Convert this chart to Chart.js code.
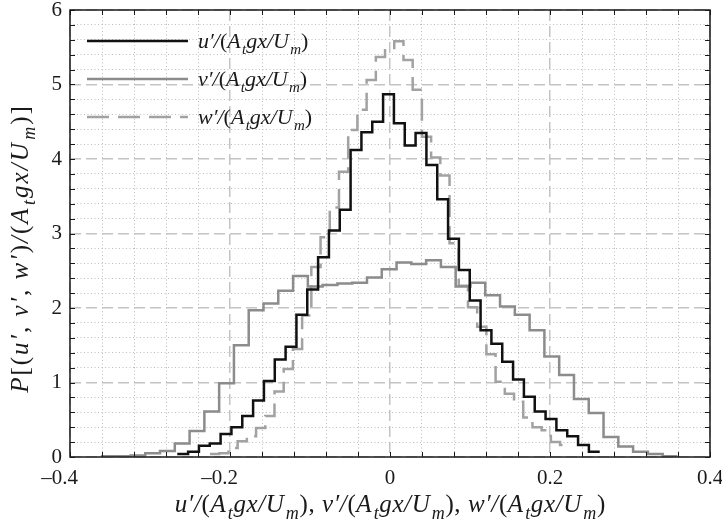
<!DOCTYPE html>
<html lang="en">
<head>
<meta charset="UTF-8">
<title>Velocity fluctuation PDFs</title>
<style>
  html, body { margin: 0; padding: 0; background: #fff; }
</style>
</head>
<body>
<canvas id="pdfChart" width="722" height="526"></canvas>

<script src="https://cdn.jsdelivr.net/npm/chart.js@4"></script>
<script>
// Histogram bins for each component: first bin edge, bin width, density per bin
const uStart = -0.2659;
const uWidth = 0.01354;
const uDensity = [0.04, 0.07, 0.15, 0.18, 0.31, 0.40, 0.55, 0.76, 1.02, 1.31,
                  1.48, 1.91, 2.25, 2.68, 3.04, 3.32, 4.12, 4.36, 4.50, 4.87,
                  4.48, 4.18, 4.35, 3.92, 3.46, 2.93, 2.51, 2.10, 1.70, 1.52,
                  1.28, 1.04, 0.81, 0.61, 0.51, 0.36, 0.28, 0.16, 0.07];

const vStart = -0.3614;
const vWidth = 0.01848;
const vDensity = [0.01, 0.01, 0.02, 0.05, 0.08, 0.18, 0.35, 0.61, 0.99, 1.50,
                  1.97, 2.06, 2.23, 2.43, 2.29, 2.31, 2.33, 2.34, 2.41, 2.52,
                  2.61, 2.59, 2.64, 2.55, 2.29, 2.34, 2.17, 2.02, 1.91, 1.70,
                  1.35, 1.10, 0.78, 0.59, 0.27, 0.14, 0.07, 0.04, 0.01];

const wStart = -0.225;
const wWidth = 0.011516;
const wDensity = [0.04, 0.05, 0.12, 0.21, 0.28, 0.39, 0.55, 0.88, 1.18, 1.45,
                  1.90, 2.55, 2.95, 3.35, 3.83, 4.39, 4.66, 5.06, 5.37, 5.46,
                  5.58, 5.33, 4.93, 4.30, 4.02, 3.78, 2.87, 2.30, 2.01, 1.75,
                  1.38, 1.01, 0.85, 0.74, 0.53, 0.40, 0.36, 0.20, 0.16];

const seriesLabels = ['u′/(A_tgx/U_m)', 'v′/(A_tgx/U_m)', 'w′/(A_tgx/U_m)'];
const xTitle = 'u′/(A_tgx/U_m), v′/(A_tgx/U_m), w′/(A_tgx/U_m)';
const yTitle = 'P[(u′, v′, w′)/(A_tgx/U_m)]';

const xMin = -0.4, xMax = 0.4, xMinorStep = 0.04, xMajorStep = 0.2;
const yMin = 0, yMax = 6, yMinorStep = 0.2, yMajorStep = 1;

const SERIF = '"Liberation Serif", "Times New Roman", serif';
const BLACK = '#111111';
const GREY_SOLID = '#8c8c8c';
const GREY_DASH = '#a2a2a2';
const W_DASH = [22, 9];
const LINE_W = 2.5;

// stair points: one point per left bin edge plus the closing right edge
function histPoints(start, width, vals) {
  const pts = vals.map((v, i) => ({ x: start + i * width, y: v }));
  pts.push({ x: start + vals.length * width, y: vals[vals.length - 1] });
  return pts;
}

const isMultiple = (v, step) => Math.abs(v / step - Math.round(v / step)) < 1e-6;

function fmtX(v) {
  if (Math.abs(v) < 1e-9) return '0';
  const s = Math.abs(v).toFixed(1);
  return v < 0 ? '\u2013' + s + '    ' : s;
}

// grid: dashed at major steps, dotted at minor steps
function gridColor(major) {
  return ctx => (ctx.tick && isMultiple(ctx.tick.value, major)) ? '#c4c4c4' : '#bdbdbd';
}
function gridWidth(major) {
  return ctx => (ctx.tick && isMultiple(ctx.tick.value, major)) ? 1.5 : 1;
}
function gridDash(major) {
  return ctx => (ctx.tick && isMultiple(ctx.tick.value, major)) ? [11, 5] : [1, 2.5];
}

// --- small rich-text helper: "_c" makes c a subscript, letters in italic
function parseRich(str) {
  const out = [];
  for (let i = 0; i < str.length; i++) {
    if (str[i] === '_') { out.push({ t: str[++i], sub: true }); continue; }
    out.push({ t: str[i], sub: false });
  }
  return out;
}
function richFont(ch, size, sub) {
  const upright = '()[], '.includes(ch);
  const px = sub ? Math.round(size * 0.7) : size;
  return (upright ? '' : 'italic ') + px + 'px ' + SERIF;
}
function drawRich(ctx, str, x, y, size, align, gap) {
  gap = gap || 0;
  const parts = parseRich(str);
  let total = 0;
  parts.forEach((p, i) => {
    ctx.font = richFont(p.t, size, p.sub);
    p.pre = p.sub ? size * 0.06 : 0;
    p.w = p.pre + ctx.measureText(p.t).width + (i < parts.length - 1 ? gap : 0);
    total += p.w;
  });
  let cx = align === 'center' ? x - total / 2 : x;
  ctx.textAlign = 'left';
  ctx.textBaseline = 'alphabetic';
  parts.forEach(p => {
    ctx.font = richFont(p.t, size, p.sub);
    ctx.fillText(p.t, cx + p.pre, y + (p.sub ? size * 0.26 : 0));
    cx += p.w;
  });
  return total;
}

// frame, inward ticks, legend and axis titles
const decorPlugin = {
  id: 'decor',
  afterDraw(chart) {
    const { ctx, chartArea: a, scales: { x, y } } = chart;
    ctx.save();

    ctx.strokeStyle = '#1a1a1a';
    ctx.lineWidth = 1;
    ctx.beginPath();
    const tick = 5;
    x.ticks.forEach(t => {
      const px = Math.round(x.getPixelForValue(t.value)) + 0.5;
      ctx.moveTo(px, a.bottom); ctx.lineTo(px, a.bottom - tick);
      ctx.moveTo(px, a.top); ctx.lineTo(px, a.top + tick);
    });
    y.ticks.forEach(t => {
      const py = Math.round(y.getPixelForValue(t.value)) + 0.5;
      ctx.moveTo(a.left, py); ctx.lineTo(a.left + tick, py);
      ctx.moveTo(a.right, py); ctx.lineTo(a.right - tick, py);
    });
    ctx.stroke();

    ctx.lineWidth = 1.5;
    ctx.strokeRect(a.left, a.top, a.right - a.left, a.bottom - a.top);

    // legend in the upper-left corner of the plot
    const styles = [
      { color: BLACK, dash: [] },
      { color: GREY_SOLID, dash: [] },
      { color: GREY_DASH, dash: W_DASH }
    ];
    const lx0 = a.left + 17, lx1 = a.left + 118, ly0 = a.top + 31, lstep = 38;
    styles.forEach((s, i) => {
      const ly = ly0 + i * lstep;
      ctx.strokeStyle = s.color;
      ctx.lineWidth = LINE_W;
      ctx.setLineDash(s.dash);
      ctx.beginPath();
      ctx.moveTo(lx0, ly); ctx.lineTo(lx1, ly);
      ctx.stroke();
      ctx.setLineDash([]);
      ctx.fillStyle = '#1a1a1a';
      drawRich(ctx, seriesLabels[i], lx1 + 10, ly + 7, 22, 'left');
    });

    // axis titles
    ctx.fillStyle = '#1a1a1a';
    drawRich(ctx, xTitle, (a.left + a.right) / 2, 512, 25, 'center', 0.6);
    ctx.translate(28, (a.top + a.bottom) / 2 + 16);
    ctx.rotate(-Math.PI / 2);
    drawRich(ctx, yTitle, 0, 0, 25, 'center', 2);

    ctx.restore();
  }
};

new Chart(document.getElementById('pdfChart'), {
  type: 'line',
  data: {
    datasets: [
      {
        label: 'u',
        data: histPoints(uStart, uWidth, uDensity),
        borderColor: BLACK,
        borderWidth: LINE_W,
        stepped: true,
        pointRadius: 0,
        fill: false
      },
      {
        label: 'v',
        data: histPoints(vStart, vWidth, vDensity),
        borderColor: GREY_SOLID,
        borderWidth: LINE_W,
        stepped: true,
        pointRadius: 0,
        fill: false
      },
      {
        label: 'w',
        data: histPoints(wStart, wWidth, wDensity),
        borderColor: GREY_DASH,
        borderWidth: LINE_W,
        borderDash: W_DASH,
        stepped: true,
        pointRadius: 0,
        fill: false
      }
    ]
  },
  options: {
    responsive: false,
    animation: false,
    events: [],
    layout: { padding: { top: 10, right: 12, left: 0, bottom: 0 } },
    plugins: { legend: { display: false }, tooltip: { enabled: false } },
    scales: {
      x: {
        type: 'linear',
        min: xMin,
        max: xMax,
        afterFit: s => { s.height = 69; s.paddingLeft = 0; s.paddingRight = 0; },
        ticks: {
          stepSize: xMinorStep,
          autoSkip: false,
          maxRotation: 0,
          padding: 9,
          color: '#1a1a1a',
          font: { family: SERIF, size: 21 },
          callback: v => isMultiple(v, xMajorStep) ? fmtX(v) : ''
        },
        grid: { drawTicks: false, color: gridColor(xMajorStep), lineWidth: gridWidth(xMajorStep) },
        border: { display: false, dash: gridDash(xMajorStep) }
      },
      y: {
        type: 'linear',
        min: yMin,
        max: yMax,
        afterFit: s => { s.width = 70; s.paddingTop = 0; s.paddingBottom = 0; },
        ticks: {
          stepSize: yMinorStep,
          autoSkip: false,
          padding: 8,
          color: '#1a1a1a',
          font: { family: SERIF, size: 21 },
          callback: v => isMultiple(v, yMajorStep) ? String(Math.round(v)) : ''
        },
        grid: { drawTicks: false, color: gridColor(yMajorStep), lineWidth: gridWidth(yMajorStep) },
        border: { display: false, dash: gridDash(yMajorStep) }
      }
    }
  },
  plugins: [decorPlugin]
});
</script>
</body>
</html>
